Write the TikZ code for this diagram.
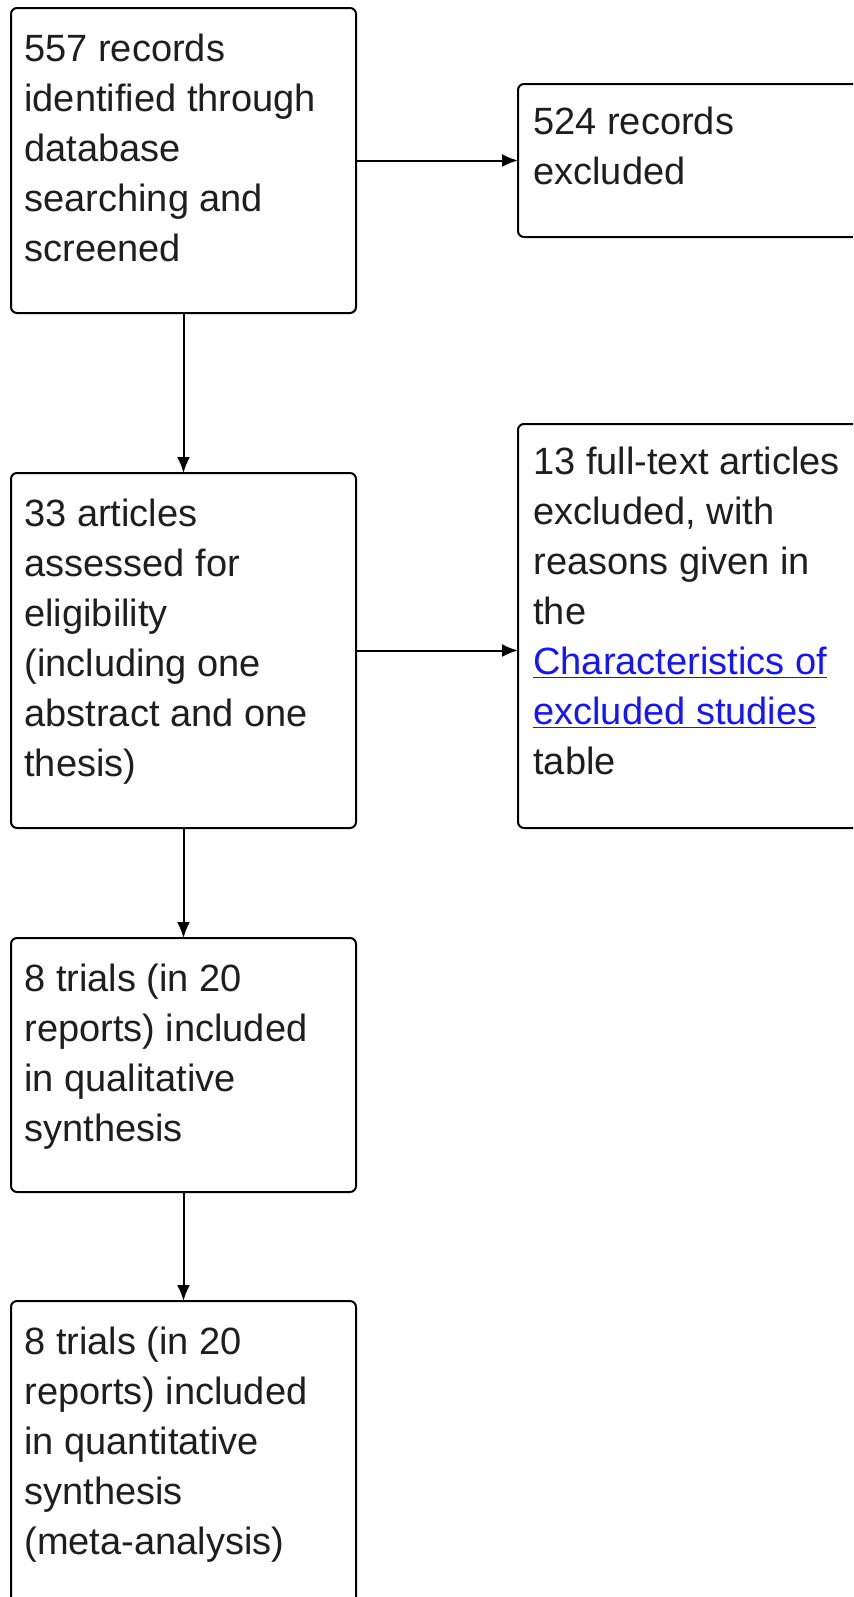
\documentclass[tikz,border=0pt]{standalone}
\usepackage{fontspec}
\setmainfont{Liberation Sans}
\usetikzlibrary{positioning,arrows.meta}
\definecolor{linkblue}{RGB}{20,20,255}
\definecolor{ink}{RGB}{30,30,30}

\tikzset{
  box/.style={draw, line width=1pt, rounded corners=3pt, inner sep=0pt, outer sep=0pt, minimum width=172.5pt},
  txt/.style={anchor=base west, inner sep=0pt, text=ink, font=\fontsize{19pt}{25pt}\selectfont},
  arr/.style={-{Latex[length=8pt,width=6.5pt]}, line width=1pt}
}

\begin{document}
\begin{tikzpicture}[x=0.5pt,y=-0.5pt]
\useasboundingbox (0,0) rectangle (853,1597);
\clip (0,0) rectangle (853,1597);

% Left column
\node[box, anchor=north west, minimum height=152.5pt] (rec) at (11,8) {};
\node[box, below=80pt of rec, minimum height=177.5pt] (art) {};
\node[box, below=55pt of art, minimum height=127pt] (qual) {};
\node[box, below=54.5pt of qual, minimum height=152pt] (quant) {};

% Right column
\node[box, right=81pt of rec, minimum height=76.5pt] (excl) {};
\node[box, below=93.5pt of excl, minimum height=202pt] (full) {};

% Texts
\node[txt] (recT) at ([xshift=6.5pt,yshift=-26.5pt]rec.north west)
  {\parbox[t]{165pt}{557 records\\identified through\\database\\searching and\\screened}};
\node[txt] (artT) at ([xshift=6.5pt,yshift=-26.5pt]art.north west)
  {\parbox[t]{165pt}{33 articles\\assessed for\\eligibility\\(including one\\abstract and one\\thesis)}};
\node[txt] (qualT) at ([xshift=6.5pt,yshift=-26.5pt]qual.north west)
  {\parbox[t]{165pt}{8 trials (in 20\\reports) included\\in qualitative\\synthesis}};
\node[txt] (quantT) at ([xshift=6.5pt,yshift=-26.5pt]quant.north west)
  {\parbox[t]{165pt}{8 trials (in 20\\reports) included\\in quantitative\\synthesis\\(meta-analysis)}};
\node[txt] (exclT) at ([xshift=7.5pt,yshift=-25pt]excl.north west)
  {\parbox[t]{165pt}{524 records\\excluded}};
\node[txt] (fullT) at ([xshift=7.5pt,yshift=-25pt]full.north west)
  {\parbox[t]{165pt}{13 full-text articles\\excluded, with\\reasons given in\\the\\{\color{linkblue}\underline{Characteristics of}}\\{\color{linkblue}\underline{excluded studies}}\\table}};

% Arrows
\draw[arr] (rec.south) -- (art.north);
\draw[arr] (art.south) -- (qual.north);
\draw[arr] (qual.south) -- (quant.north);
\draw[arr] (rec.east) -- (rec.east -| excl.west);
\draw[arr] (art.east) -- (art.east -| full.west);

\end{tikzpicture}
\end{document}
